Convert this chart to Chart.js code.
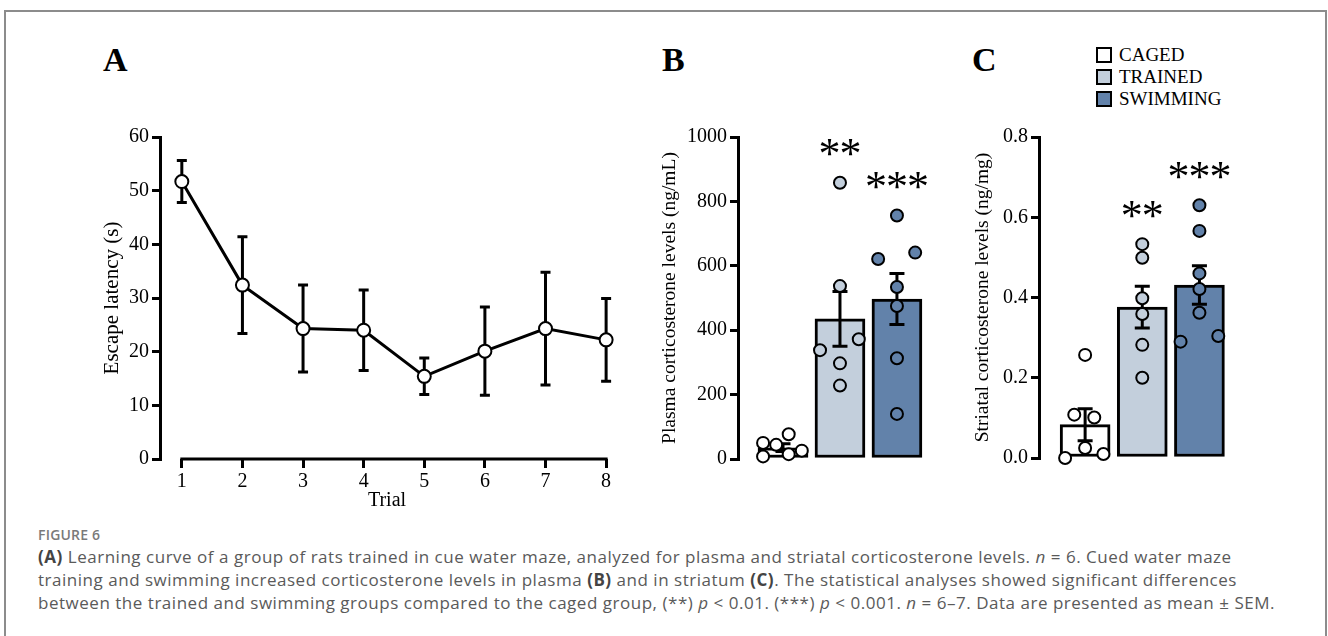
<!DOCTYPE html>
<html>
<head>
<meta charset="utf-8">
<script src="https://cdn.jsdelivr.net/npm/chart.js@4.4.1/dist/chart.umd.min.js"></script>
<style>
  body { margin: 0; background: #fff; width: 1328px; height: 636px; overflow: hidden; position: relative; }
  .frame { position: absolute; left: 4px; top: 10px; width: 1323px; height: 700px; border: 2px solid #8c8c8c; box-sizing: border-box; }
  .panel { position: absolute; }
  .letter { position: absolute; font: bold 34px "Liberation Serif", serif; line-height: 34px; color: #000; }
  .legend { position: absolute; left: 1096px; top: 44px; font: 19px "Liberation Serif", serif; line-height: 22px; color: #000; }
  .legend div { display: flex; align-items: center; }
  .legend .sw { display: inline-block; width: 12px; height: 12px; border: 2px solid #000; margin-right: 7px; }
  .fig { position: absolute; left: 38px; top: 527px; font: 600 14px "Open Sans", sans-serif; letter-spacing: 0.2px; line-height: 16px; color: #7a7a7a; }
  .cap { position: absolute; left: 38px; top: 545px; margin: 0; font: 17px "Open Sans", sans-serif; letter-spacing: 0.52px; line-height: 23px; color: #5a5a5a; white-space: nowrap; }
  .cap b { color: #444; }
</style>
</head>
<body>
<div class="frame"></div>

<div class="letter" style="left:103px;top:43px">A</div>
<div class="letter" style="left:662px;top:43px">B</div>
<div class="letter" style="left:972px;top:43px">C</div>

<div class="legend" id="legend"></div>

<canvas id="chartA" class="panel" width="540" height="400" style="left:90px;top:120px"></canvas>
<canvas id="chartB" class="panel" width="330" height="380" style="left:620px;top:100px"></canvas>
<canvas id="chartC" class="panel" width="320" height="380" style="left:950px;top:100px"></canvas>

<div class="fig">FIGURE 6</div>
<p class="cap"><b>(A)</b> Learning curve of a group of rats trained in cue water maze, analyzed for plasma and striatal corticosterone levels. <i>n</i> = 6. Cued water maze<br>training and swimming increased corticosterone levels in plasma <b>(B)</b> and in striatum <b>(C)</b>. The statistical analyses showed significant differences<br>between the trained and swimming groups compared to the caged group, (**) <i>p</i> &lt; 0.01. (***) <i>p</i> &lt; 0.001. <i>n</i> = 6–7. Data are presented as mean ± SEM.</p>

<script>
// panel A - learning curve
const trials = [1, 2, 3, 4, 5, 6, 7, 8];
const latencyMean = [51.7, 32.4, 24.3, 24.0, 15.4, 20.1, 24.3, 22.2];
const latencySem = [3.9, 9.0, 8.1, 7.5, 3.4, 8.2, 10.5, 7.7];

// groups for B and C
const groups = ['CAGED', 'TRAINED', 'SWIMMING'];
const groupColors = ['#ffffff', '#c3cfdc', '#6282aa'];
const sigLabels = ['', '**', '***'];

// panel B - plasma corticosterone (ng/mL)
const plasmaMean = [35, 435, 497];
const plasmaSem = [12, 85, 79];
const plasmaCaged = [50, 44, 77, 8, 15, 26];
const plasmaTrained = [858, 537, 372, 338, 297, 228];
const plasmaSwimming = [756, 621, 641, 534, 475, 313, 140];
const plasmaCagedJitter = [-0.35, -0.12, 0.1, -0.35, 0.1, 0.33];
const plasmaTrainedJitter = [0, 0, 0.33, -0.35, 0, 0];
const plasmaSwimmingJitter = [0, -0.33, 0.32, 0, 0, 0, 0];
const plasmaTicks = [0, 200, 400, 600, 800, 1000];

// panel C - striatal corticosterone (ng/mg)
const striatalMean = [0.083, 0.376, 0.431];
const striatalSem = [0.04, 0.052, 0.048];
const striatalCaged = [0.257, 0.108, 0.101, 0.025, 0.0, 0.01];
const striatalTrained = [0.533, 0.499, 0.398, 0.359, 0.282, 0.200];
const striatalSwimming = [0.630, 0.566, 0.460, 0.421, 0.362, 0.290, 0.304];
const striatalCagedJitter = [0, -0.19, 0.16, 0, -0.35, 0.32];
const striatalTrainedJitter = [0, 0, 0, 0, 0, 0];
const striatalSwimmingJitter = [0, 0, 0, 0, 0, -0.33, 0.33];
const striatalTicks = [0, 0.2, 0.4, 0.6, 0.8];

const serif = 'Liberation Serif';

// legend
const legendEl = document.getElementById('legend');
groups.forEach((g, i) => {
  const row = document.createElement('div');
  row.innerHTML = '<span class="sw" style="background:' + groupColors[i] + '"></span>' + g;
  legendEl.appendChild(row);
});

function yAxis(min, max, ticks, title, titleSize, titlePad, width, fmt) {
  return {
    min: min, max: max,
    afterBuildTicks: s => { s.ticks = ticks.map(v => ({value: v})); },
    afterFit: s => { s.width = width; },
    grid: {display: true, drawOnChartArea: false, drawTicks: true, tickLength: 8, color: '#000', lineWidth: 3},
    border: {display: true, color: '#000', width: 3},
    ticks: {color: '#000', padding: 3, font: {family: serif, size: 20}, callback: fmt || (v => v)},
    title: {display: true, text: title, color: '#000', font: {family: serif, size: titleSize}, padding: {top: titlePad, bottom: 0}}
  };
}

// error bars drawn from mean/sem arrays through the scales
const errorBarsA = {
  id: 'errorBarsA',
  beforeDatasetsDraw(chart) {
    const {ctx, scales: {x, y}} = chart;
    ctx.save();
    ctx.strokeStyle = '#000';
    ctx.lineWidth = 3;
    trials.forEach((t, i) => {
      const px = x.getPixelForValue(t);
      const top = y.getPixelForValue(latencyMean[i] + latencySem[i]);
      const bot = y.getPixelForValue(latencyMean[i] - latencySem[i]);
      ctx.beginPath();
      ctx.moveTo(px, top); ctx.lineTo(px, bot);
      ctx.moveTo(px - 5, top); ctx.lineTo(px + 5, top);
      ctx.moveTo(px - 5, bot); ctx.lineTo(px + 5, bot);
      ctx.stroke();
    });
    // x axis line spanning the first to the last trial
    const y0 = chart.chartArea.bottom;
    ctx.beginPath();
    ctx.moveTo(x.getPixelForValue(trials[0]) - 1.5, y0);
    ctx.lineTo(x.getPixelForValue(trials[trials.length - 1]) + 1.5, y0);
    ctx.stroke();
    ctx.restore();
  }
};

new Chart(document.getElementById('chartA'), {
  type: 'line',
  data: {
    datasets: [{
      data: trials.map((t, i) => ({x: t, y: latencyMean[i]})),
      borderColor: '#000', borderWidth: 3, tension: 0,
      pointRadius: 6.5, pointBorderWidth: 2, pointBorderColor: '#000', pointBackgroundColor: '#fff',
      clip: false
    }]
  },
  options: {
    responsive: false, animation: false, devicePixelRatio: 1,
    layout: {padding: {top: 17, right: 16, left: 0, bottom: 0}},
    plugins: {legend: {display: false}, tooltip: {enabled: false}},
    scales: {
      x: {
        type: 'linear', min: 0.64, max: 8.13,
        afterBuildTicks: s => { s.ticks = trials.map(v => ({value: v})); },
        afterFit: s => { s.height = 61; },
        grid: {display: true, drawOnChartArea: false, drawTicks: true, tickLength: 9, color: '#000', lineWidth: 3},
        border: {display: false},
        ticks: {color: '#000', padding: 2, font: {family: serif, size: 20}},
        title: {display: true, text: 'Trial', color: '#000', font: {family: serif, size: 20}, padding: {top: 0, bottom: 7}}
      },
      y: yAxis(0, 60, [0, 10, 20, 30, 40, 50, 60], 'Escape latency (s)', 21, 9.4, 70)
    }
  },
  plugins: [errorBarsA]
});

function barPanel(id, mean, sem, pts, jit, ticks, title, titlePad, yWidth, pad, xmin, xmax, fmt) {
  const errorBars = {
    id: 'errorBars' + id,
    afterDatasetDraw(chart, args) {
      if (args.meta.type !== 'bar') return;
      const {ctx, scales: {x, y}} = chart;
      ctx.save();
      ctx.strokeStyle = '#000';
      ctx.lineWidth = 3;
      mean.forEach((m, i) => {
        const px = x.getPixelForValue(i);
        const top = y.getPixelForValue(m + sem[i]);
        const bot = y.getPixelForValue(Math.max(0, m - sem[i]));
        ctx.beginPath();
        ctx.moveTo(px, top); ctx.lineTo(px, bot);
        ctx.moveTo(px - 7.5, top); ctx.lineTo(px + 7.5, top);
        ctx.moveTo(px - 7.5, bot); ctx.lineTo(px + 7.5, bot);
        ctx.stroke();
      });
      ctx.restore();
    },
    afterDraw(chart) {
      const {ctx, scales: {x, y}} = chart;
      ctx.save();
      ctx.fillStyle = '#000';
      ctx.font = '44px "' + serif + '"';
      ctx.textAlign = 'center';
      ctx.textBaseline = 'alphabetic';
      const m = ctx.measureText('*');
      const half = (m.actualBoundingBoxAscent - m.actualBoundingBoxDescent) / 2;
      sigLabels.forEach((lab, i) => {
        if (!lab) return;
        const cy = y.getPixelForValue(Math.max(...pts[i])) - 35;
        const cx = x.getPixelForValue(i);
        for (let k = 0; k < lab.length; k++) {
          const sx = cx + (k - (lab.length - 1) / 2) * 21;
          ctx.fillText('*', sx, cy + half);
        }
      });
      ctx.restore();
    }
  };

  const datasets = [{
    type: 'bar',
    data: mean.map((m, i) => ({x: i, y: m})),
    backgroundColor: groupColors,
    borderColor: '#000', borderWidth: 3, borderSkipped: false,
    barThickness: 50, order: 3
  }];
  pts.forEach((vals, gi) => {
    datasets.push({
      type: 'scatter',
      data: vals.map((v, k) => ({x: gi + jit[gi][k], y: v})),
      pointRadius: 6, pointBorderWidth: 2, pointBorderColor: '#000',
      pointBackgroundColor: groupColors[gi], clip: false, order: 1
    });
  });

  new Chart(document.getElementById(id), {
    type: 'bar',
    data: {datasets: datasets},
    options: {
      responsive: false, animation: false, devicePixelRatio: 1,
      layout: {padding: pad},
      plugins: {legend: {display: false}, tooltip: {enabled: false}},
      scales: {
        x: {type: 'linear', min: xmin, max: xmax, offset: false, display: false},
        y: yAxis(ticks[0], ticks[ticks.length - 1], ticks, title, 19.5, titlePad, yWidth, fmt)
      }
    },
    plugins: [errorBars]
  });
}

barPanel('chartB', plasmaMean, plasmaSem,
  [plasmaCaged, plasmaTrained, plasmaSwimming],
  [plasmaCagedJitter, plasmaTrainedJitter, plasmaSwimmingJitter],
  plasmaTicks, 'Plasma corticosterone levels (ng/mL)', 38.3, 118,
  {top: 37, right: 24, left: 0, bottom: 21}, -0.79, 2.51);

barPanel('chartC', striatalMean, striatalSem,
  [striatalCaged, striatalTrained, striatalSwimming],
  [striatalCagedJitter, striatalTrainedJitter, striatalSwimmingJitter],
  striatalTicks, 'Striatal corticosterone levels (ng/mg)', 21.3, 89,
  {top: 37, right: 42, left: 0, bottom: 22}, -0.807, 2.5, v => v.toFixed(1));
</script>
</body>
</html>
